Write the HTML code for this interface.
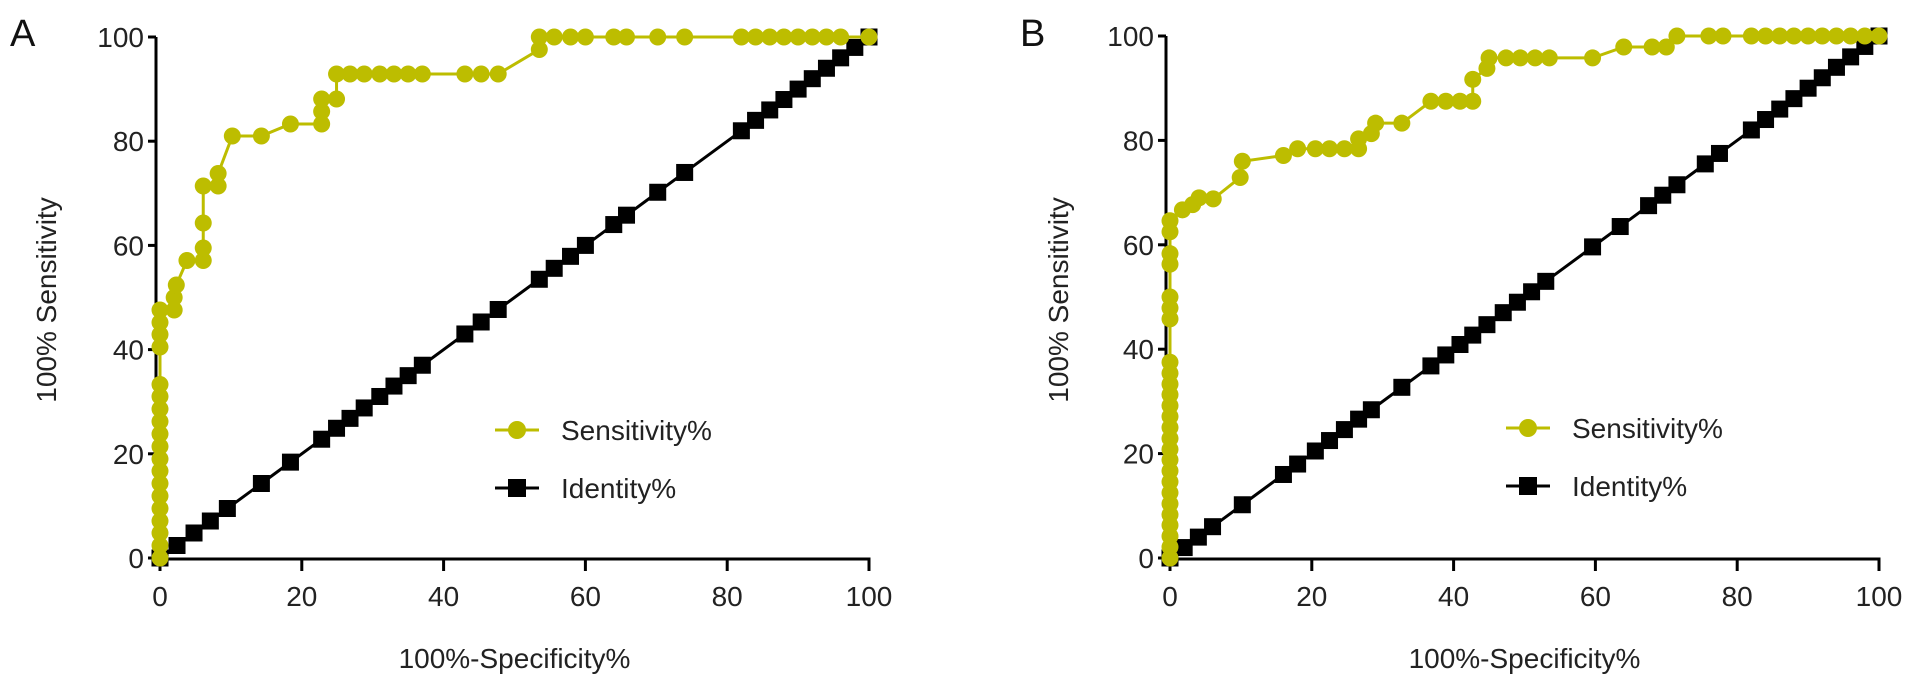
<!DOCTYPE html>
<html><head><meta charset="utf-8"><style>
html,body{margin:0;padding:0;background:#fff;}
svg{display:block;font-family:"Liberation Sans",Arial,sans-serif;}
</style></head><body>
<svg id="chart" width="1913" height="687" viewBox="0 0 1913 687"></svg>
<script>
const xTicks = [0,20,40,60,80,100];
const yTicks = [0,20,40,60,80,100];
const sensAx = [0,0,0,0,0,0,0,0,0,0,0,0,0,0,0,0,0,0,0,2,2,2.3,3.8,6.1,6.1,6.1,6.1,8.2,8.2,10.2,14.3,18.4,22.8,22.8,22.8,24.9,24.9,26.8,28.8,31,33,35,37,43,45.3,47.7,53.5,53.5,55.6,57.9,60,64,65.8,70.2,74,82,84,86,88,90,92,94,96,100];
const sensAy = [0,2.4,4.8,7.1,9.5,11.9,14.3,16.7,19,21.4,23.8,26.2,28.6,31,33.3,40.5,42.9,45.2,47.6,47.6,50,52.4,57.1,57.1,59.5,64.3,71.4,71.4,73.8,81,81,83.3,83.3,85.7,88.1,88.1,92.9,92.9,92.9,92.9,92.9,92.9,92.9,92.9,92.9,92.9,97.6,100,100,100,100,100,100,100,100,100,100,100,100,100,100,100,100,100];
const identA = [0,2.4,4.8,7.1,9.5,14.3,18.4,22.8,24.9,26.8,28.8,31,33,35,37,43,45.3,47.7,53.5,55.6,57.9,60,64,65.8,70.2,74,82,84,86,88,90,92,94,96,98,100];
const sensBx = [0,0,0,0,0,0,0,0,0,0,0,0,0,0,0,0,0,0,0,0,0,0,0,0,0,0,1.75,3.2,4.1,6.1,9.9,10.2,16,18,20.5,22.5,24.6,26.6,26.6,28.4,29,32.7,36.8,38.9,40.9,42.7,42.7,44.7,45,47.4,49.4,51.5,53.5,59.6,64,68,70,71.5,76,78,82,84,86,88,90,92,94,96,98,100];
const sensBy = [0,2.1,4.2,6.3,8.3,10.4,12.5,14.6,16.7,18.8,20.8,22.9,25,27.1,29.2,31.3,33.3,35.4,37.5,45.8,47.9,50,56.3,58.3,62.5,64.6,66.7,67.7,69,68.8,72.9,76,77.1,78.4,78.4,78.4,78.4,78.4,80.3,81.3,83.3,83.3,87.5,87.5,87.5,87.5,91.7,93.8,95.8,95.8,95.8,95.8,95.8,95.8,97.9,97.9,97.9,100,100,100,100,100,100,100,100,100,100,100,100,100];
const identB = [0,2,4,6,10.2,16,18,20.5,22.5,24.6,26.6,28.4,32.7,36.8,38.9,40.9,42.7,44.7,47,49,51,53,59.6,63.5,67.5,69.5,71.5,75.5,77.5,82,84,86,88,90,92,94,96,98,100];

const NS="http://www.w3.org/2000/svg";
const svg=document.getElementById('chart');
const YEL="#bdbd00";
function mk(tag,attrs,parent){const e=document.createElementNS(NS,tag);for(const k in attrs)e.setAttribute(k,attrs[k]);(parent||svg).appendChild(e);return e;}

function panel(cfg){
  const g=mk('g',{});
  
  
  const sx=v=>cfg.x0+(cfg.x1-cfg.x0)*v/100;
  const sy=v=>cfg.y0+(cfg.y1-cfg.y0)*v/100;
  const ya=mk('line',{x1:cfg.x0-4,y1:sy(0),x2:cfg.x0-4,y2:sy(100),stroke:'#000','stroke-width':3},g);
  
  
  const xa=mk('line',{x1:cfg.x0-4,y1:cfg.y0+1,x2:sx(100)+1.5,y2:cfg.y0+1,stroke:'#000','stroke-width':3},g);
  
  
  yTicks.forEach(t=>{
    mk('line',{x1:cfg.x0-12,y1:sy(t),x2:cfg.x0-4,y2:sy(t),stroke:'#000','stroke-width':3},g);
    const tx=mk('text',{x:cfg.x0-16,y:sy(t)+10,'text-anchor':'end','font-size':28,fill:'#222'},g);
    tx.textContent=t;
    
    
  });
  xTicks.forEach(t=>{
    mk('line',{x1:sx(t),y1:cfg.y0+1,x2:sx(t),y2:cfg.y0+13,stroke:'#000','stroke-width':3},g);
    const tx=mk('text',{x:sx(t),y:cfg.y0+48,'text-anchor':'middle','font-size':28,fill:'#222'},g);
    tx.textContent=t;
    
    
  });
  const xt=mk('text',{x:(sx(0)+sx(100))/2,y:668,'text-anchor':'middle','font-size':28,fill:'#222'},g);
  xt.textContent='100%-Specificity%';
  
  
  const yt=mk('text',{x:0,y:0,'text-anchor':'middle','font-size':28,fill:'#222',transform:`translate(${cfg.ytx},300) rotate(-90)`},g);
  yt.textContent='100% Sensitivity';
  
  
  const pl=mk('text',{x:cfg.lx,y:46,'font-size':38,fill:'#111'},g);
  pl.textContent=cfg.label;
  
  
  mk('polyline',{points:cfg.ident.map(v=>sx(v)+','+sy(v)).join(' '),fill:'none',stroke:'#000','stroke-width':3},g);
  cfg.ident.forEach(v=>{
    const r=mk('rect',{x:sx(v)-8.5,y:sy(v)-8.5,width:17,height:17,fill:'#000'},g);
    
    
  });
  mk('polyline',{points:cfg.sx.map((v,i)=>sx(v)+','+sy(cfg.sy[i])).join(' '),fill:'none',stroke:YEL,'stroke-width':3},g);
  cfg.sx.forEach((v,i)=>{
    const c=mk('circle',{cx:sx(v),cy:sy(cfg.sy[i]),r:8.5,fill:YEL},g);
    
    
  });
  const lg=mk('g',{},g);
  
  
  mk('line',{x1:cfg.legx,y1:cfg.legy,x2:cfg.legx+44,y2:cfg.legy,stroke:YEL,'stroke-width':3},lg);
  mk('circle',{cx:cfg.legx+22,cy:cfg.legy,r:9,fill:YEL},lg);
  const l1=mk('text',{x:cfg.legx+66,y:cfg.legy+10,'font-size':28,fill:'#222'},lg);
  l1.textContent='Sensitivity%';
  
  
  mk('line',{x1:cfg.legx,y1:cfg.legy+58,x2:cfg.legx+44,y2:cfg.legy+58,stroke:'#000','stroke-width':3},lg);
  mk('rect',{x:cfg.legx+13,y:cfg.legy+49,width:18,height:18,fill:'#000'},lg);
  const l2=mk('text',{x:cfg.legx+66,y:cfg.legy+68,'font-size':28,fill:'#222'},lg);
  l2.textContent='Identity%';
  
  
}
panel({name:'panel-a',label:'A',lx:10,x0:160,x1:869,y0:558,y1:37,ytx:56,ident:identA,sx:sensAx,sy:sensAy,legx:495,legy:430});
panel({name:'panel-b',label:'B',lx:1020,x0:1170,x1:1879,y0:558,y1:36,ytx:1068,ident:identB,sx:sensBx,sy:sensBy,legx:1506,legy:428});
</script>
</body></html>
